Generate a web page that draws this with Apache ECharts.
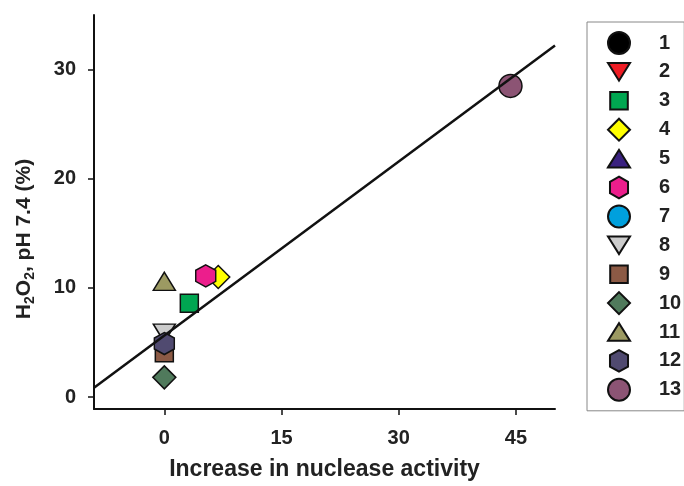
<!DOCTYPE html>
<html>
<head>
<meta charset="utf-8">
<script src="https://cdn.jsdelivr.net/npm/echarts@6/dist/echarts.min.js"></script>
<style>html,body{margin:0;padding:0;background:#fff}#c{width:684px;height:486px}</style>
</head>
<body>
<div id="c"></div>
<script>
// ---- data ----
const seriesNames = ['1','2','3','4','5','6','7','8','9','10','11','12','13'];
const xValues = [null, null, 3.2, 6.9, null, 5.3, null, 0, 0, 0, 0, 0, 44.3];
const yValues = [null, null, 8.6, 11.0, null, 11.1, null, 5.85, 4.05, 1.8, 10.6, 4.9, 28.5];
const fitX = [-9, 50];
const fitY = [0.85, 32.2];
const xTicks = [0, 15, 30, 45];
const yTicks = [0, 10, 20, 30];

// ---- styles ----
const hex = 'path://M50,0 L93.3,25 L93.3,75 L50,100 L6.7,75 L6.7,25 Z';
const tdown = 'path://M0,0 L100,0 L50,82 Z';
const colors = ['#000000','#ee1c24','#00a651','#ffff00','#3a2180','#ec1e8c','#00a0dd','#cccccc','#8c5a45','#507a5c','#9c9a62','#504a70','#8c5474'];
const symbols = ['circle',tdown,'rect','diamond','triangle',hex,'circle',tdown,'rect','diamond','triangle',hex,'circle'];
const sizes = {circle:23, triangle:[22,18], rect:18, diamond:23};
sizes[hex] = [20,22];
sizes[tdown] = [22,18];
// legend icons (padded inside a 0..100 box so they keep the reference's proportions)
const legendIcons = {
  circle: 'circle',
  diamond: 'diamond',
  rect: 'path://M0,0 M100,100 M10,10 L90,10 L90,90 L10,90 Z',
  triangle: 'path://M0,0 M100,100 M0,90 L50,10 L100,90 Z'
};
legendIcons[tdown] = 'path://M0,0 M100,100 M0,10 L100,10 L50,90 Z';
legendIcons[hex] = 'path://M0,0 M100,100 M50,1 L91,24 L91,76 L50,99 L9,76 L9,24 Z';

const series = seriesNames.map((n,i)=>({
  name: n,
  type: 'scatter',
  data: xValues[i]==null ? [] : [[xValues[i], yValues[i]]],
  symbol: symbols[i],
  symbolSize: sizes[symbols[i]],
  itemStyle: {color: colors[i], borderColor: '#111', borderWidth: 1.5, opacity: 1},
  emphasis: {disabled: true},
  z: 3
}));
series.push({
  name: 'fit',
  type: 'line',
  data: fitX.map((x,i)=>[x, fitY[i]]),
  showSymbol: false,
  symbol: 'none',
  lineStyle: {color: '#111', width: 2.5},
  z: 5,
  silent: true
});

const font = '"Liberation Sans", Arial, sans-serif';
const chart = echarts.init(document.getElementById('c'), null, {renderer: 'canvas'});
chart.setOption({
  animation: false,
  backgroundColor: '#fff',
  grid: {left: 94, right: 129, top: 15, bottom: 76, containLabel: false},
  xAxis: {
    type: 'value', min: -9, max: 50,
    splitLine: {show: false},
    axisLine: {show: true, onZero: false, lineStyle: {color: '#111', width: 2}},
    axisTick: {show: true, inside: false, length: 6, customValues: xTicks, lineStyle: {color: '#111', width: 1.5}},
    axisLabel: {customValues: xTicks, margin: 19, color: '#222', fontFamily: font, fontWeight: 'bold', fontSize: 20},
    name: 'Increase in nuclease activity',
    nameLocation: 'middle', nameGap: 49,
    nameTextStyle: {color: '#222', fontFamily: font, fontWeight: 'bold', fontSize: 23}
  },
  yAxis: {
    type: 'value', min: -1.1, max: 35,
    splitLine: {show: false},
    axisLine: {show: true, onZero: false, lineStyle: {color: '#111', width: 2}},
    axisTick: {show: true, inside: false, length: 6, customValues: yTicks, lineStyle: {color: '#111', width: 1.5}},
    axisLabel: {customValues: yTicks, margin: 18, color: '#222', fontFamily: font, fontWeight: 'bold', fontSize: 20},
    name: '{n|H}{s|2}{n|O}{s|2}{n|, pH 7.4 (%)}',
    nameLocation: 'middle', nameGap: 57, nameRotate: 90,
    nameTextStyle: {
      padding: [0, 54, 0, 0],
      rich: {
        n: {color: '#222', fontFamily: font, fontWeight: 'bold', fontSize: 21, lineHeight: 26, verticalAlign: 'middle'},
        s: {color: '#222', fontFamily: font, fontWeight: 'bold', fontSize: 14, lineHeight: 26, verticalAlign: 'bottom'}
      }
    }
  },
  legend: {
    data: seriesNames.map((n,i)=>({name: n, icon: legendIcons[symbols[i]]})),
    orient: 'vertical',
    left: 587, top: 22,
    padding: [9, 3, 9, 20],
    itemWidth: 22, itemHeight: 22, itemGap: 4.9,
    borderColor: '#888', borderWidth: 1,
    selectedMode: false,
    textStyle: {color: '#222', fontFamily: font, fontWeight: 'bold', fontSize: 20, padding: [0, 0, 0, 24]}
  },
  series: series
});
</script>
</body>
</html>
